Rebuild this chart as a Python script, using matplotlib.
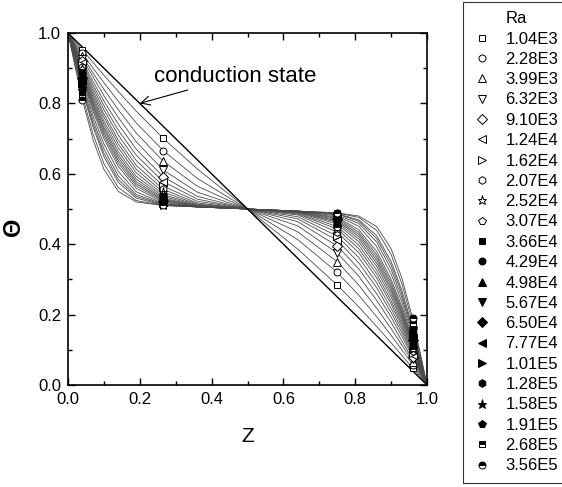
import matplotlib
matplotlib.use("Agg")
import matplotlib.pyplot as plt
from matplotlib.lines import Line2D
from matplotlib.ticker import MultipleLocator

plt.rcParams['font.family'] = ['Liberation Sans', 'DejaVu Sans']

# Rayleigh numbers (legend labels)
ra_labels = ["1.04E3", "2.28E3", "3.99E3", "6.32E3", "9.10E3", "1.24E4", "1.62E4",
             "2.07E4", "2.52E4", "3.07E4", "3.66E4", "4.29E4", "4.98E4", "5.67E4",
             "6.50E4", "7.77E4", "1.01E5", "1.28E5", "1.58E5", "1.91E5", "2.68E5",
             "3.56E5"]

# vertical coordinate Z shared by all profiles
z = [0.0, 0.02, 0.04, 0.07, 0.10, 0.14, 0.19, 0.265, 0.36, 0.5,
     0.64, 0.75, 0.81, 0.86, 0.90, 0.93, 0.96, 0.98, 1.0]

# mean temperature profiles Theta(Z), one per Ra
theta = [
    [1, .976, .952, .916, .880, .834, .778, .701, .614, .5, .386, .284, .222, .166, .120, .084, .048, .024, 0],
    [1, .971, .942, .900, .859, .806, .745, .666, .587, .5, .413, .320, .255, .194, .141, .100, .058, .029, 0],
    [1, .967, .934, .886, .840, .782, .716, .636, .565, .5, .435, .350, .284, .218, .160, .114, .066, .033, 0],
    [1, .963, .927, .875, .822, .760, .691, .611, .548, .5, .452, .375, .309, .240, .178, .125, .073, .037, 0],
    [1, .960, .920, .862, .807, .741, .670, .592, .536, .5, .464, .395, .330, .259, .193, .138, .080, .040, 0],
    [1, .957, .914, .852, .794, .724, .653, .578, .528, .5, .472, .411, .347, .276, .206, .148, .086, .043, 0],
    [1, .954, .909, .843, .782, .710, .638, .565, .522, .5, .478, .423, .362, .290, .218, .157, .092, .046, 0],
    [1, .951, .903, .834, .770, .696, .624, .556, .517, .5, .483, .434, .376, .304, .230, .166, .097, .049, 0],
    [1, .949, .898, .826, .761, .685, .613, .548, .514, .5, .486, .443, .387, .315, .239, .174, .102, .051, 0],
    [1, .946, .894, .818, .750, .674, .603, .541, .512, .5, .488, .450, .397, .326, .250, .182, .106, .054, 0],
    [1, .944, .889, .811, .741, .663, .593, .536, .510, .5, .490, .457, .407, .337, .259, .189, .111, .056, 0],
    [1, .942, .884, .804, .732, .654, .585, .531, .509, .5, .491, .462, .415, .346, .268, .196, .116, .058, 0],
    [1, .940, .881, .798, .725, .646, .578, .528, .508, .5, .492, .466, .422, .354, .275, .202, .119, .060, 0],
    [1, .938, .877, .792, .717, .638, .572, .525, .507, .5, .493, .469, .428, .362, .283, .208, .123, .062, 0],
    [1, .935, .873, .785, .709, .630, .566, .522, .507, .5, .493, .473, .434, .370, .291, .215, .127, .065, 0],
    [1, .933, .867, .777, .700, .621, .559, .519, .506, .5, .494, .476, .441, .379, .300, .223, .133, .067, 0],
    [1, .928, .859, .764, .685, .607, .549, .516, .506, .5, .494, .480, .451, .393, .315, .236, .141, .072, 0],
    [1, .924, .851, .752, .671, .594, .541, .514, .506, .5, .494, .483, .459, .406, .329, .248, .149, .076, 0],
    [1, .920, .844, .741, .659, .584, .536, .512, .506, .5, .494, .486, .465, .416, .341, .259, .156, .080, 0],
    [1, .917, .837, .732, .649, .576, .531, .511, .506, .5, .494, .487, .469, .424, .351, .269, .163, .083, 0],
    [1, .909, .823, .712, .629, .561, .524, .510, .506, .5, .494, .489, .476, .439, .371, .288, .177, .091, 0],
    [1, .903, .811, .696, .613, .550, .520, .510, .506, .5, .494, .489, .480, .450, .387, .304, .189, .097, 0],
]

# positions (indices into z) where the symbols are placed
marker_idx = [2, 7, 11, 16]

# conduction state
z_cond = [0.0, 1.0]
theta_cond = [1.0, 0.0]

markers = ['s', 'o', '^', 'v', 'D', '<', '>', 'h', '*', 'p',
           's', 'o', '^', 'v', 'D', '<', '>', 'h', '*', 'p', 's', 'o']
msizes = [5, 5, 5.5, 5.5, 5, 5.5, 5.5, 5.5, 6.5, 5.5,
          5, 5, 5.5, 5.5, 5, 5.5, 5.5, 5.5, 6.5, 5.5, 5, 5]

fig = plt.figure(figsize=(5.62, 4.87), dpi=100)
ax = fig.add_axes([68/562, 1-385/487, 359/562, 352/487])

for t in theta:
    ax.plot(z, t, color='#4a4a4a', lw=0.6, zorder=2)

ax.plot(z_cond, theta_cond, color='black', lw=1.0, zorder=3)

handles = [Line2D([], [], linestyle='none', marker='')]
labels = ['Ra']
for i, t in enumerate(theta):
    if i < 10:
        kw = dict(mfc='white', mec='black', mew=0.7)
    elif i < 20:
        kw = dict(mfc='black', mec='black', mew=0.7)
    else:
        kw = dict(mfc='black', mec='black', mew=0.7, fillstyle='top',
                  markerfacecoloralt='white')
    xs = [z[j] for j in marker_idx]
    ys = [t[j] for j in marker_idx]
    h, = ax.plot(xs, ys, linestyle='none', marker=markers[i], ms=msizes[i],
                 zorder=4, **kw)
    handles.append(h)
    labels.append(ra_labels[i])

ax.set_xlim(0, 1)
ax.set_ylim(0, 1)
ax.xaxis.set_major_locator(MultipleLocator(0.2))
ax.xaxis.set_minor_locator(MultipleLocator(0.1))
ax.yaxis.set_major_locator(MultipleLocator(0.2))
ax.yaxis.set_minor_locator(MultipleLocator(0.1))
ax.tick_params(which='both', direction='in', top=True, right=True, width=1.0,
               labelsize=12, pad=5)
ax.tick_params(which='major', length=5)
ax.tick_params(which='minor', length=3)
for s in ax.spines.values():
    s.set_linewidth(1.2)

ax.set_xlabel('Z', fontsize=15)
ax.xaxis.set_label_coords(0.5, -0.118)
ax.set_ylabel('Θ', fontsize=17, fontweight='bold')
ax.yaxis.set_label_coords(-0.12, 0.45)

ax.annotate('conduction state', xy=(0.20, 0.80), xytext=(0.24, 0.846),
            fontsize=16, ha='left', va='bottom',
            arrowprops=dict(arrowstyle='->', color='black', lw=0.8,
                            shrinkA=0, shrinkB=0))

leg = fig.legend(handles, labels, loc='upper left',
                 bbox_to_anchor=(463/562, 1-2/487), frameon=True,
                 fancybox=False, edgecolor='black', fontsize=12,
                 borderaxespad=0, labelspacing=0.32, handlelength=1.2,
                 handletextpad=0.8, borderpad=0.55)
leg.get_frame().set_linewidth(0.8)

fig.savefig('out.png', dpi=100)
